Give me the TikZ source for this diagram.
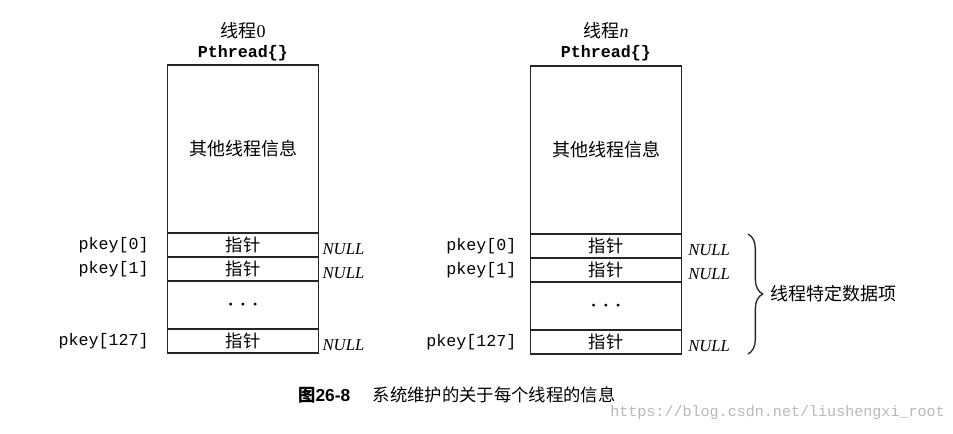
\documentclass[tikz,border=0pt]{standalone}
\usepackage{fontspec}
\setmainfont{Liberation Serif}
\setsansfont{Liberation Sans}
\setmonofont{Liberation Mono}
\newfontfamily\cjk{Noto Sans CJK SC}
\usetikzlibrary{positioning, decorations.pathreplacing}

\begin{document}
\begin{tikzpicture}[
  x=0.75pt, y=-0.75pt,
  info/.style={draw=black!85, line width=1pt, outer sep=0pt, inner sep=0pt,
    minimum width=113pt, minimum height=126pt, font=\cjk\fontsize{13.5}{16}\selectfont},
  slot/.style={info, minimum height=18pt, font=\cjk\fontsize{13}{15}\selectfont},
  gapslot/.style={info, minimum height=36pt, font=\fontsize{22}{24}\selectfont},
  hdr/.style={inner sep=0pt, font=\ttfamily\bfseries\fontsize{12.5}{14}\selectfont},
  tname/.style={inner sep=0pt, font=\fontsize{13.5}{16}\selectfont},
  keylbl/.style={inner sep=0pt, font=\ttfamily\fontsize{12.5}{14}\selectfont},
  nullbl/.style={inner sep=0pt, yshift=-3pt, font=\itshape\fontsize{12.5}{14}\selectfont},
  keybrace/.style={decorate, decoration={brace, amplitude=11pt}, line width=1pt, draw=black!85}
]
\useasboundingbox (0,0) rectangle (953,434);

% --- thread 0: Pthread{} block ---
\node[tname] (name0) at (243,31) {{\cjk 线程}0};
\node[hdr] (hdr0) at (243,53) {Pthread\{\}};
\node[info] (info0) at (243,149) {其他线程信息};
\node[slot, below=0pt of info0] (ptr00) {指针};
\node[slot, below=0pt of ptr00] (ptr01) {指针};
\node[gapslot, below=0pt of ptr01] (gap0) {$\cdots$};
\node[slot, below=0pt of gap0] (ptr0last) {指针};

% keys on the left, NULL on the right
\node[keylbl, left=14pt of ptr00] (key00) {pkey[0]};
\node[keylbl, left=14pt of ptr01] (key01) {pkey[1]};
\node[keylbl, left=14pt of ptr0last] (key0last) {pkey[127]};
\node[nullbl, right=3pt of ptr00] (null00) {NULL};
\node[nullbl, right=3pt of ptr01] (null01) {NULL};
\node[nullbl, right=3pt of ptr0last] (null0last) {NULL};

% --- thread n: same layout ---
\node[tname] (namen) at (606,31) {{\cjk 线程}\textit{n}};
\node[hdr] (hdrn) at (606,53) {Pthread\{\}};
\node[info] (infon) at (606,150) {其他线程信息};
\node[slot, below=0pt of infon] (ptrn0) {指针};
\node[slot, below=0pt of ptrn0] (ptrn1) {指针};
\node[gapslot, below=0pt of ptrn1] (gapn) {$\cdots$};
\node[slot, below=0pt of gapn] (ptrnlast) {指针};

\node[keylbl, left=10.5pt of ptrn0] (keyn0) {pkey[0]};
\node[keylbl, left=10.5pt of ptrn1] (keyn1) {pkey[1]};
\node[keylbl, left=10.5pt of ptrnlast] (keynlast) {pkey[127]};
\node[nullbl, right=5pt of ptrn0] (nulln0) {NULL};
\node[nullbl, right=5pt of ptrn1] (nulln1) {NULL};
\node[nullbl, right=5pt of ptrnlast] (nullnlast) {NULL};

% brace over the per-thread key slots
\coordinate (brtop) at ([xshift=50pt]ptrn0.north east);
\coordinate (brbot) at ([xshift=50pt]ptrnlast.south east);
\draw[keybrace] (brtop) -- node[right=16pt, inner sep=0pt, font=\cjk\fontsize{13.5}{16}\selectfont] (slotlbl) {线程特定数据项} (brbot);

% --- caption and watermark ---
\node[anchor=west, inner sep=0pt, font=\fontsize{13}{15}\selectfont] (caption) at (298,395)
  {{\cjk\bfseries 图}{\sffamily\bfseries 26-8}\hspace{1.3em}{\cjk 系统维护的关于每个线程的信息}};
\node[anchor=west, inner sep=0pt, text=black!28, font=\ttfamily\fontsize{11.3}{13}\selectfont] (wmark) at (610,413)
  {https://blog.csdn.net/liushengxi\_root};

\end{tikzpicture}
\end{document}
